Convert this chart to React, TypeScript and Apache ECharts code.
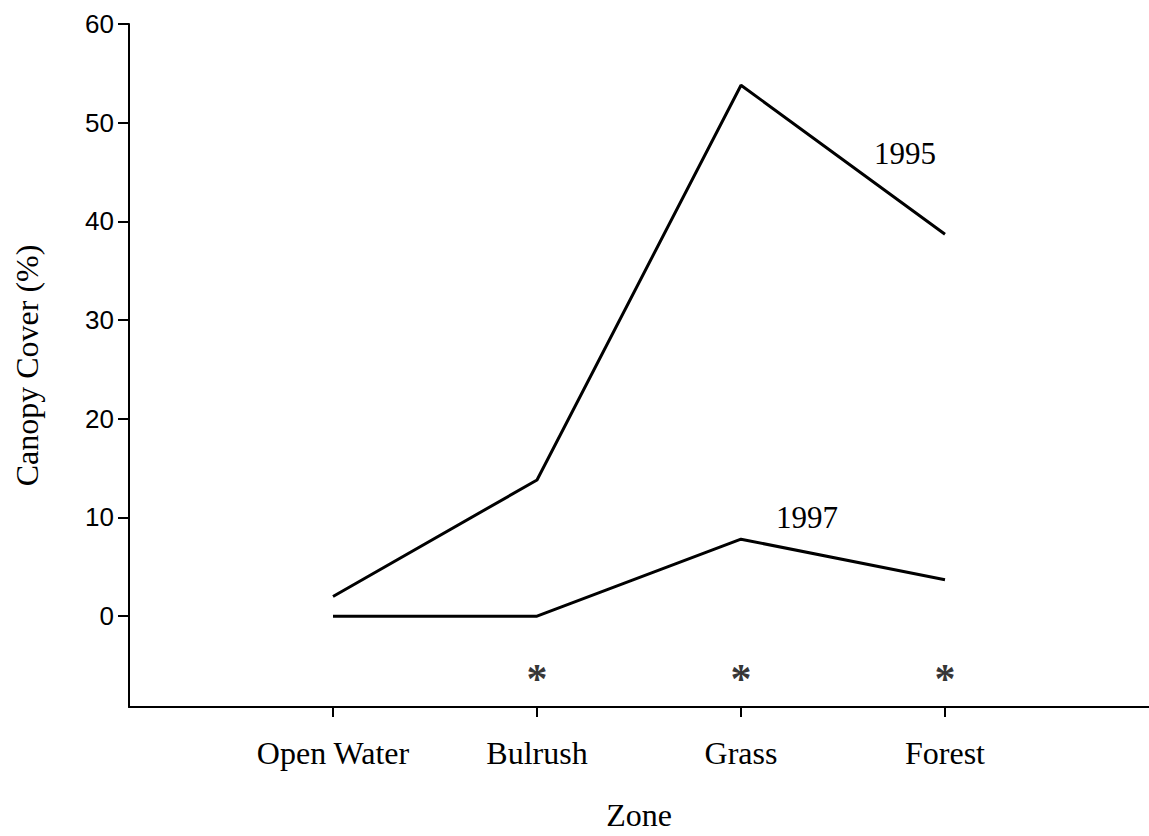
import React, { useEffect, useRef } from "react";
import * as echarts from "echarts";

const zones = ["Open Water", "Bulrush", "Grass", "Forest"];
const cover1995 = [2, 13.8, 53.8, 38.7];
const cover1997 = [0, 0, 7.8, 3.7];
const yTicks = [0, 10, 20, 30, 40, 50, 60];
const significantZones = ["Bulrush", "Grass", "Forest"];
const significanceMark = "*";
const markLevel = -5.4;
const seriesNames = ["1995", "1997"];

const SERIF = "'Liberation Serif', 'Times New Roman', serif";
const SANS = "'Liberation Sans', Arial, sans-serif";

export default function App() {
  const ref = useRef<HTMLDivElement>(null);
  useEffect(() => {
    if (!ref.current) return;
    const chart = echarts.init(ref.current, null, { renderer: "svg" });
    const xs = zones.map((_, i) => i + 1);
    const yearLabel = (text: string, offset: number[]) => ({
      show: true,
      formatter: text,
      position: "inside",
      offset,
      color: "#000",
      fontFamily: SERIF,
      fontSize: 31,
    });
    const line1995 = cover1995.map((v, i) => {
      const item: any = { value: [xs[i], v] };
      if (i === zones.length - 1) item.label = yearLabel(seriesNames[0], [-40, -81]);
      return item;
    });
    const line1997 = cover1997.map((v, i) => {
      const item: any = { value: [xs[i], v] };
      if (i === 2) item.label = yearLabel(seriesNames[1], [66, -22]);
      return item;
    });
    const marks = significantZones.map((z) => [zones.indexOf(z) + 1, markLevel]);

    chart.setOption({
      animation: false,
      backgroundColor: "#fff",
      grid: { left: 129, top: 24, width: 1025, height: 686.5, containLabel: false },
      xAxis: {
        type: "value",
        min: 0,
        max: 5,
        name: "Zone",
        nameLocation: "middle",
        nameGap: 92,
        nameTextStyle: { color: "#000", fontFamily: SERIF, fontSize: 32 },
        axisLine: { show: true, onZero: false, lineStyle: { color: "#000", width: 2 } },
        axisTick: { show: true, customValues: xs, length: 10, lineStyle: { color: "#000", width: 2 } },
        axisLabel: {
          show: true,
          customValues: xs,
          formatter: (v: number) => zones[Math.round(v) - 1] ?? "",
          color: "#000",
          fontFamily: SERIF,
          fontSize: 32,
          margin: 30,
        },
        splitLine: { show: false },
      },
      yAxis: {
        type: "value",
        min: -9.2,
        max: 60,
        name: "Canopy Cover (%)",
        nameLocation: "middle",
        nameRotate: 90,
        nameGap: 86,
        nameTextStyle: { color: "#000", fontFamily: SERIF, fontSize: 32 },
        axisLine: { show: true, onZero: false, lineStyle: { color: "#000", width: 2 } },
        axisTick: { show: true, customValues: yTicks, length: 11, lineStyle: { color: "#000", width: 2 } },
        axisLabel: {
          show: true,
          customValues: yTicks,
          color: "#000",
          fontFamily: SANS,
          fontSize: 26,
          margin: 15,
        },
        splitLine: { show: false },
      },
      series: [
        {
          type: "line",
          name: seriesNames[0],
          data: line1995,
          symbol: "circle",
          symbolSize: 0,
          showSymbol: true,
          lineStyle: { color: "#000", width: 3 },
          itemStyle: { color: "#000" },
          label: { show: false },
        },
        {
          type: "line",
          name: seriesNames[1],
          data: line1997,
          symbol: "circle",
          symbolSize: 0,
          showSymbol: true,
          lineStyle: { color: "#000", width: 3 },
          itemStyle: { color: "#000" },
          label: { show: false },
        },
        {
          type: "scatter",
          data: marks,
          symbolSize: 0,
          label: {
            show: true,
            position: "inside",
            formatter: significanceMark,
            color: "#000",
            fontFamily: SERIF,
            fontWeight: "bold",
            fontSize: 42,
            offset: [0, 10],
          },
        },
      ],
    });
    return () => chart.dispose();
  }, []);
  return (
    <div
      ref={ref}
      style={{ position: "fixed", left: 0, top: 0, width: 1149, height: 836, background: "#fff" }}
    />
  );
}
